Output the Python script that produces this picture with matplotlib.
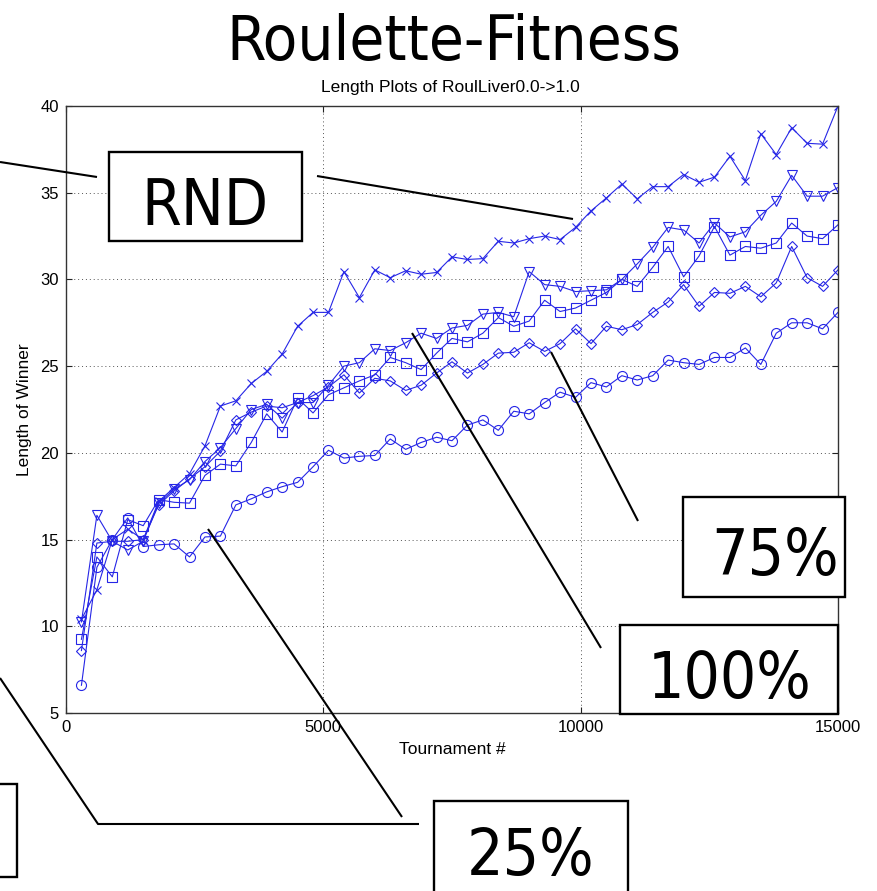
import matplotlib
matplotlib.use("Agg")
import matplotlib.pyplot as plt
from matplotlib.patches import Rectangle

# Tournament number at which each sample was taken
tournaments = [300, 600, 900, 1200, 1500, 1800, 2100, 2400, 2700, 3000,
               3300, 3600, 3900, 4200, 4500, 4800, 5100, 5400, 5700, 6000,
               6300, 6600, 6900, 7200, 7500, 7800, 8100, 8400, 8700, 9000,
               9300, 9600, 9900, 10200, 10500, 10800, 11100, 11400, 11700, 12000,
               12300, 12600, 12900, 13200, 13500, 13800, 14100, 14400, 14700, 15000]

# Winner length per run (x: RND, v: 100%, square, diamond: 75%, circle: 25%)
len_rnd = [10.4, 12.1, 15.0, 15.6, 15.0, 17.2, 18.0, 18.8, 20.4, 22.7,
           23.0, 24.0, 24.7, 25.7, 27.3, 28.1, 28.1, 30.45, 28.95, 30.55,
           30.1, 30.5, 30.3, 30.4, 31.3, 31.15, 31.2, 32.2, 32.1, 32.35,
           32.5, 32.3, 33.0, 33.95, 34.7, 35.5, 34.65, 35.35, 35.35, 36.05,
           35.6, 35.9, 37.1, 35.7, 38.4, 37.2, 38.75, 37.85, 37.8, 40.0]
len_tri = [10.25, 16.4, 14.9, 14.4, 14.9, 17.1, 17.9, 18.45, 19.5, 20.3,
           21.4, 22.5, 22.8, 22.0, 22.9, 22.9, 23.9, 25.0, 25.2, 26.0,
           25.9, 26.35, 26.9, 26.6, 27.2, 27.35, 28.0, 28.1, 27.85, 30.45,
           29.7, 29.6, 29.3, 29.35, 29.4, 30.0, 30.9, 31.85, 33.0, 32.85,
           32.1, 33.25, 32.45, 32.75, 33.7, 34.5, 36.0, 34.8, 34.8, 35.3]
len_sq = [9.25, 14.0, 12.85, 16.15, 15.8, 17.3, 17.15, 17.1, 18.7, 19.35,
          19.25, 20.6, 22.25, 21.2, 23.15, 22.3, 23.35, 23.75, 24.15, 24.5,
          25.5, 25.2, 24.8, 25.75, 26.6, 26.4, 26.9, 27.8, 27.3, 27.6,
          28.8, 28.15, 28.35, 28.8, 29.25, 30.0, 29.6, 30.7, 31.9, 30.15,
          31.35, 33.05, 31.4, 31.9, 31.8, 32.1, 33.25, 32.5, 32.35, 33.15]
len_dia = [8.6, 14.8, 14.9, 14.9, 15.0, 17.0, 17.8, 18.5, 19.2, 20.1,
           21.9, 22.35, 22.7, 22.6, 22.9, 23.3, 23.8, 24.5, 23.45, 24.3,
           24.15, 23.6, 23.9, 24.6, 25.25, 24.6, 25.1, 25.75, 25.8, 26.35,
           25.85, 26.3, 27.15, 26.3, 27.3, 27.1, 27.4, 28.1, 28.7, 29.7,
           28.45, 29.25, 29.2, 29.6, 29.0, 29.8, 31.9, 30.1, 29.6, 30.55]
len_circ = [6.6, 13.4, 15.0, 16.25, 14.6, 14.7, 14.75, 14.0, 15.15, 15.2,
            17.0, 17.35, 17.75, 18.05, 18.3, 19.2, 20.15, 19.7, 19.8, 19.85,
            20.8, 20.2, 20.6, 20.9, 20.7, 21.6, 21.9, 21.3, 22.4, 22.25,
            22.9, 23.5, 23.2, 24.05, 23.8, 24.45, 24.2, 24.45, 25.35, 25.2,
            25.1, 25.5, 25.5, 26.05, 25.1, 26.9, 27.5, 27.5, 27.15, 28.1]

x_ticks = [0, 5000, 10000, 15000]
y_ticks = [5, 10, 15, 20, 25, 30, 35, 40]

BLUE = (0.15, 0.15, 0.9)
W, H = 878, 891

fig = plt.figure(figsize=(W / 100, H / 100), dpi=100)
fig.patch.set_facecolor("white")

ax = fig.add_axes([66 / W, 1 - 713 / H, (838 - 66) / W, (713 - 106) / H])

series = [
    (len_rnd, "x", 6.2),
    (len_tri, "v", 7.6),
    (len_sq, "s", 6.6),
    (len_dia, "D", 5.1),
    (len_circ, "o", 7.2),
]
for vals, mk, ms in series:
    ax.plot(tournaments, vals, color=BLUE, lw=0.8, marker=mk, ms=ms,
            mfc="none", mec=BLUE, mew=0.8)

ax.set_xlim(0, 15000)
ax.set_ylim(5, 40)
ax.set_xticks(x_ticks)
ax.set_yticks(y_ticks)
ax.grid(True, color="#555555", lw=0.7, linestyle=(0, (1, 3)))
ax.tick_params(direction="in", length=4, width=0.8, top=True, right=True,
               labelsize=12, pad=5, colors="#222222")
for tl in ax.get_xticklabels() + ax.get_yticklabels():
    tl.set_fontfamily("Liberation Sans")
    tl.set_color("black")
for sp in ax.spines.values():
    sp.set_color("#333333")
    sp.set_linewidth(1.0)

ax.set_xlabel("Tournament #", fontfamily="Liberation Sans", fontsize=12.5,
              labelpad=5)
ax.set_ylabel("Length of Winner", fontfamily="Liberation Sans", fontsize=12.5,
              labelpad=6)

# Titles
fig.text(454 / W, 1 - 60 / H, "Roulette-Fitness", ha="center", va="baseline",
         fontsize=45.5, fontfamily="DejaVu Sans", fontstretch="condensed")
fig.text(450 / W, 1 - 92 / H, "Length Plots of RoulLiver0.0->1.0",
         ha="center", va="baseline", fontsize=12.5,
         fontfamily="Liberation Sans")

# Callout layer in pixel coordinates
oax = fig.add_axes([0, 0, 1, 1], zorder=5)
oax.set_xlim(0, W)
oax.set_ylim(H, 0)
oax.axis("off")
oax.patch.set_alpha(0)

callout_lines = [
    [(0, 162), (97, 177)],
    [(317, 176), (573, 219)],
    [(551, 352), (638, 521)],
    [(412, 333), (601, 648)],
    [(208, 529), (402, 817)],
    [(0, 678), (98, 824), (419, 824)],
]
for pts in callout_lines:
    xs, ys = zip(*pts)
    oax.plot(xs, ys, color="black", lw=1.5, clip_on=False,
             solid_capstyle="butt")

boxes = [
    ((109, 152, 302, 241), "RND", (205, 225)),
    ((683, 497, 845, 597), "75%", (775, 575)),
    ((620, 625, 838, 714), "100%", (730, 698)),
    ((434, 801, 628, 905), "25%", (531, 875)),
    ((-10, 784, 17, 877), "", (0, 0)),
]
for (x0, y0, x1, y1), label, (tx, ty) in boxes:
    oax.add_patch(Rectangle((x0, y0), x1 - x0, y1 - y0, facecolor="white",
                            edgecolor="black", lw=1.7, clip_on=False))
    if label:
        oax.text(tx, ty, label, ha="center", va="baseline", fontsize=46,
                 fontfamily="DejaVu Sans", fontstretch="condensed")

fig.savefig("out.png", dpi=100)
